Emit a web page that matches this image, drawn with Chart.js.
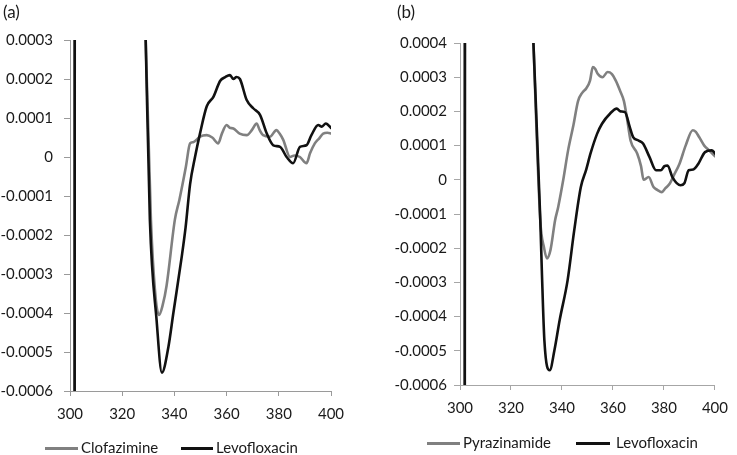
<!DOCTYPE html>
<html lang="en">
<head>
  <meta charset="UTF-8" />
  <title>CD spectra</title>
  <script src="https://cdn.jsdelivr.net/npm/chart.js"></script>
  <style>
    body {
      margin: 0;
      padding: 0;
      width: 737px;
      height: 455px;
      background: #fff;
      font-family: Lato, 'Open Sans', sans-serif;
      color: #1a1a1a;
      position: relative;
      overflow: hidden;
    }
    .panel { position: absolute; top: 0; height: 455px; }
    .tag { position: absolute; top: 1px; font-size: 17px; }
    .swatch { position: absolute; height: 3px; }
    .ltext { position: absolute; font-size: 15px; line-height: 18px; white-space: nowrap; }
  </style>
</head>
<body>
  <div class="panel" style="left:0;width:368px"><canvas id="chartA" width="368" height="455"></canvas></div>
  <div class="panel" style="left:368px;width:369px"><canvas id="chartB" width="369" height="455"></canvas></div>
  <div class="tag" style="left:3px">(a)</div>
  <div class="tag" style="left:397px">(b)</div>
  <div id="legendA"></div>
  <div id="legendB"></div>

  <script>
    const GRAY = '#808080';
    const BLACK = '#111111';

    // panel (a)
    const labelsA = ['Clofazimine', 'Levofloxacin'];
    const clofWl = [300, 301.6, 302.0, 315, 328.4, 329.0, 331.0, 332.8, 334.1, 335.5, 337.0, 340.2, 341.9, 344.4, 346.0, 347.2, 348.5, 349.8, 352.4, 354.5, 356.8, 358.2, 360.0, 361.2, 362.6, 365.0, 367.7, 369.8, 371.5, 372.6, 374.0, 376.6, 379.1, 380.3, 381.7, 384.3, 386.0, 388.1, 390.6, 392.0, 393.8, 395.5, 397.0, 398.6, 400.2];
    const clofVal = [-0.004, -0.004, 0.004, 0.004, 0.00047, 0.0003, -0.00016, -0.00036, -0.000405, -0.00038, -0.00033, -0.00016, -0.00011, -0.000025, 0.000035, 0.000038, 0.000044, 0.000052, 0.000056, 0.00005, 0.000035, 0.00006, 0.000082, 0.000075, 0.000073, 0.00006, 0.000056, 0.00007, 0.000086, 0.00007, 0.000056, 0.000052, 0.000069, 0.00006, 0.000044, 0.0, 0.000004, 0.0, -0.000016, 0.00001, 0.000035, 0.000048, 0.00006, 0.000062, 0.00006];
    const levoAWl = [300, 301.6, 302.0, 315, 328.4, 329.0, 330.6, 333.2, 335.2, 337.7, 339.6, 342.8, 344.3, 346.0, 347.9, 349.8, 352.4, 355.0, 357.5, 359.5, 361.3, 362.6, 363.8, 365.1, 367.7, 370.2, 372.8, 375.4, 377.9, 380.5, 383.0, 385.5, 388.1, 390.6, 392.5, 395.1, 396.5, 398.0, 400.2];
    const levoAVal = [-0.004, -0.004, 0.004, 0.004, 0.00047, 0.0003, -0.00016, -0.00042, -0.000553, -0.000487, -0.0004, -0.000256, -0.00018, -0.00007, 0.0, 0.00006, 0.00013, 0.000155, 0.000195, 0.000205, 0.00021, 0.0002, 0.000205, 0.0002, 0.000146, 0.000125, 0.000108, 0.00006, 0.00003, 0.000026, 0.0, -0.000016, 0.000026, 0.00003, 0.000056, 0.000082, 0.000078, 0.000086, 0.000073];

    // panel (b)
    const labelsB = ['Pyrazinamide', 'Levofloxacin'];
    const pyrWl = [300, 301.7, 302.1, 315, 328.2, 328.8, 331.5, 333.0, 334.1, 335.5, 337.3, 338.5, 340.5, 342.4, 344.5, 346.3, 348.0, 349.5, 351.0, 352.1, 353.0, 354.0, 355.9, 357.9, 359.5, 361.1, 362.8, 364.3, 365.5, 366.9, 369.5, 371.0, 372.0, 374.0, 375.9, 377.5, 379.1, 380.5, 382.3, 384.0, 386.1, 388.5, 391.3, 392.5, 393.8, 395.8, 397.7, 400.2];
    const pyrVal = [-0.004, -0.004, 0.004, 0.004, 0.00052, 0.0004, -0.00012, -0.0002, -0.00023, -0.000205, -0.000118, -0.00008, 0.0, 0.000086, 0.00016, 0.00023, 0.000255, 0.000267, 0.00029, 0.00033, 0.000325, 0.00031, 0.0003, 0.000315, 0.00031, 0.00029, 0.00026, 0.00023, 0.00018, 0.000115, 0.000077, 0.00004, 0.0, 0.000008, -0.000021, -0.00003, -0.000036, -0.000025, -0.000011, 0.000015, 0.000047, 0.0001, 0.000145, 0.00014, 0.000125, 0.0001, 0.000086, 0.000067];
    const levoBWl = [300, 301.7, 302.1, 315, 328.2, 328.8, 331.5, 332.1, 333.1, 335.2, 337.0, 339.1, 342.2, 344.8, 347.4, 349.5, 351.2, 353.8, 355.7, 358.9, 361.5, 363.0, 364.7, 366.6, 367.9, 370.0, 371.8, 374.3, 376.9, 378.8, 380.2, 381.4, 383.3, 386.5, 388.0, 389.7, 391.5, 393.5, 396.1, 398.7, 400.6];
    const levoBVal = [-0.004, -0.004, 0.004, 0.004, 0.00052, 0.0004, -0.000118, -0.000265, -0.00047, -0.000557, -0.0005, -0.00041, -0.000294, -0.000148, -0.000021, 0.00003, 0.000077, 0.000135, 0.000164, 0.000194, 0.000208, 0.0002, 0.000198, 0.000154, 0.000125, 0.000115, 0.000106, 0.000067, 0.000028, 0.000028, 0.00004, 0.000042, 0.000008, -0.000016, -0.00001, 0.000028, 0.00003, 0.000047, 0.000081, 0.000086, 0.000072];

    const xTicks = [300, 320, 340, 360, 380, 400];

    function pts(xs, ys) {
      return xs.map((x, i) => ({ x: x, y: ys[i] }));
    }

    function line(label, data, color, order) {
      return {
        label: label,
        data: data,
        borderColor: color,
        backgroundColor: color,
        borderWidth: 2.6,
        pointRadius: 0,
        cubicInterpolationMode: 'monotone',
        order: order
      };
    }

    function makeChart(id, datasets, yMin, yMax, pad, yWidth, axisColor, yPad) {
      const font = { family: "Lato, 'Open Sans', sans-serif", size: 15 };
      return new Chart(document.getElementById(id), {
        type: 'line',
        data: { datasets: datasets },
        options: {
          responsive: false,
          animation: false,
          layout: { padding: pad },
          plugins: { legend: { display: false }, tooltip: { enabled: false } },
          scales: {
            x: {
              type: 'linear',
              min: 300,
              max: 400,
              afterBuildTicks: s => { s.ticks = xTicks.map(v => ({ value: v })); },
              afterFit: s => { s.height = 30; },
              ticks: { color: '#1a1a1a', font: font, padding: 9, maxRotation: 0 },
              grid: { drawOnChartArea: false, color: axisColor, tickLength: 5 },
              border: { color: axisColor, width: 1 }
            },
            y: {
              min: yMin,
              max: yMax,
              afterFit: s => { s.width = yWidth; },
              ticks: {
                stepSize: 0.0001,
                color: '#1a1a1a',
                font: font,
                padding: yPad,
                callback: v => Math.abs(v) < 1e-10 ? '0' : v.toFixed(4)
              },
              grid: { drawOnChartArea: false, color: axisColor, tickLength: 6 },
              border: { color: axisColor, width: 1 }
            }
          }
        }
      });
    }

    // legend items: [swatchLeft, swatchRight, textLeft] per entry, centre line y
    function legend(id, labels, colors, spots, cy) {
      const el = document.getElementById(id);
      el.innerHTML = labels.map((l, i) => {
        const s = spots[i];
        return `<div class="swatch" style="left:${s[0]}px;width:${s[1] - s[0]}px;top:${cy - 1}px;background:${colors[i]}"></div>` +
               `<div class="ltext" style="left:${s[2]}px;top:${cy - 10}px">${l}</div>`;
      }).join('');
    }

    makeChart('chartA', [
      line(labelsA[0], pts(clofWl, clofVal), GRAY, 1),
      line(labelsA[1], pts(levoAWl, levoAVal), BLACK, 0)
    ], -0.0006, 0.0003, { left: 0, right: 37, top: 40, bottom: 34 }, 70, '#9a9a9a', 11);

    makeChart('chartB', [
      line(labelsB[0], pts(pyrWl, pyrVal), GRAY, 1),
      line(labelsB[1], pts(levoBWl, levoBVal), BLACK, 0)
    ], -0.0006, 0.0004, { left: 20, right: 16, top: 43, bottom: 40 }, 72, '#a6a6a6', 7);

    legend('legendA', labelsA, [GRAY, BLACK], [[45, 78, 81], [181, 213, 216]], 448);
    legend('legendB', labelsB, [GRAY, BLACK], [[427, 460, 463], [576, 610, 616]], 443);
  </script>
</body>
</html>
